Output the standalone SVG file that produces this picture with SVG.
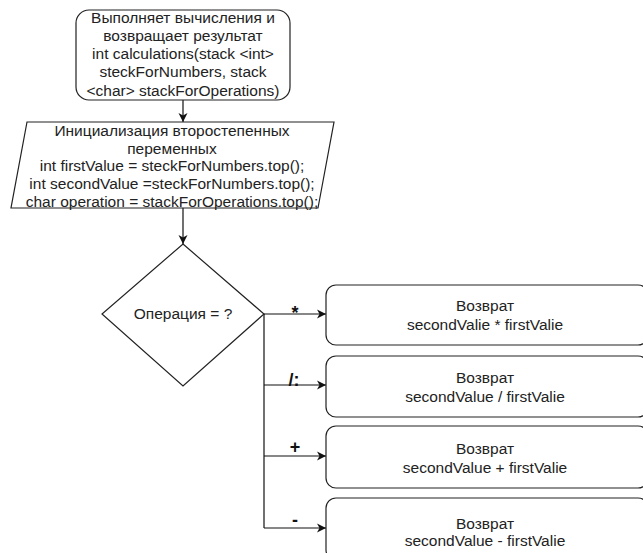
<svg xmlns="http://www.w3.org/2000/svg" width="643" height="553" viewBox="0 0 643 553">
<defs>
<marker id="arr" markerWidth="10" markerHeight="10" refX="9" refY="5" orient="auto" markerUnits="userSpaceOnUse">
<path d="M0,0.5 L9,5 L0,9.5 L2.5,5 Z" fill="#111"/>
</marker>
</defs>
<style>
.shape{fill:#fff;stroke:#222;stroke-width:1.2}
.t{font-family:"Liberation Sans",Arial,sans-serif;font-size:15.5px;fill:#222;text-anchor:middle}
.lbl{font-family:"Liberation Sans",Arial,sans-serif;font-size:18px;font-weight:bold;fill:#111;text-anchor:middle}
.c{fill:none;stroke:#111;stroke-width:1.2}
</style>
<rect width="643" height="553" fill="#fff"/>
<g id="connectors">
<line class="c" x1="183" y1="100" x2="183" y2="122" marker-end="url(#arr)"/>
<line class="c" x1="183" y1="208" x2="183" y2="244" marker-end="url(#arr)"/>
<line class="c" x1="264" y1="314" x2="264" y2="528"/>
<line class="c" x1="264" y1="314" x2="326" y2="314" marker-end="url(#arr)"/>
<line class="c" x1="264" y1="385" x2="326" y2="385" marker-end="url(#arr)"/>
<line class="c" x1="264" y1="456" x2="326" y2="456" marker-end="url(#arr)"/>
<line class="c" x1="264" y1="528" x2="326" y2="528" marker-end="url(#arr)"/>
<text class="lbl" x="295" y="319">*</text>
<text class="lbl" x="294" y="386">/:</text>
<text class="lbl" x="295" y="453">+</text>
<text class="lbl" x="295" y="526">-</text>
</g>
<g id="start">
<rect class="shape" x="76" y="10" width="214" height="90" rx="13"/>
<text class="t" x="183" y="23">Выполняет вычисления и</text>
<text class="t" x="183" y="41">возвращает результат</text>
<text class="t" x="183" y="59">int calculations(stack &lt;int&gt;</text>
<text class="t" x="183" y="77">steckForNumbers, stack</text>
<text class="t" x="183" y="96">&lt;char&gt; stackForOperations)</text>
</g>
<g id="init">
<polygon class="shape" points="27,122 334,122 318,208 11,208"/>
<text class="t" x="172" y="136">Инициализация второстепенных</text>
<text class="t" x="172" y="154">переменных</text>
<text class="t" x="172" y="171">int firstValue = steckForNumbers.top();</text>
<text class="t" x="172" y="189">int secondValue =steckForNumbers.top();</text>
<text class="t" x="172" y="207">char operation = stackForOperations.top();</text>
</g>
<g id="decision">
<polygon class="shape" points="183,244 264,314 183,386 102,314"/>
<text class="t" x="183" y="319">Операция = ?</text>
</g>
<g id="mul">
<rect class="shape" x="326" y="285" width="322" height="60" rx="10"/>
<text class="t" x="485" y="311">Возврат</text>
<text class="t" x="485" y="330">secondValie * firstValie</text>
</g>
<g id="div">
<rect class="shape" x="326" y="356" width="322" height="61" rx="10"/>
<text class="t" x="485" y="383">Возврат</text>
<text class="t" x="485" y="402">secondValue / firstValie</text>
</g>
<g id="add">
<rect class="shape" x="326" y="426" width="322" height="62" rx="10"/>
<text class="t" x="485" y="454">Возврат</text>
<text class="t" x="485" y="473">secondValue + firstValie</text>
</g>
<g id="sub">
<rect class="shape" x="326" y="498" width="322" height="62" rx="10"/>
<text class="t" x="485" y="529">Возврат</text>
<text class="t" x="485" y="546">secondValue - firstValie</text>
</g>
</svg>
